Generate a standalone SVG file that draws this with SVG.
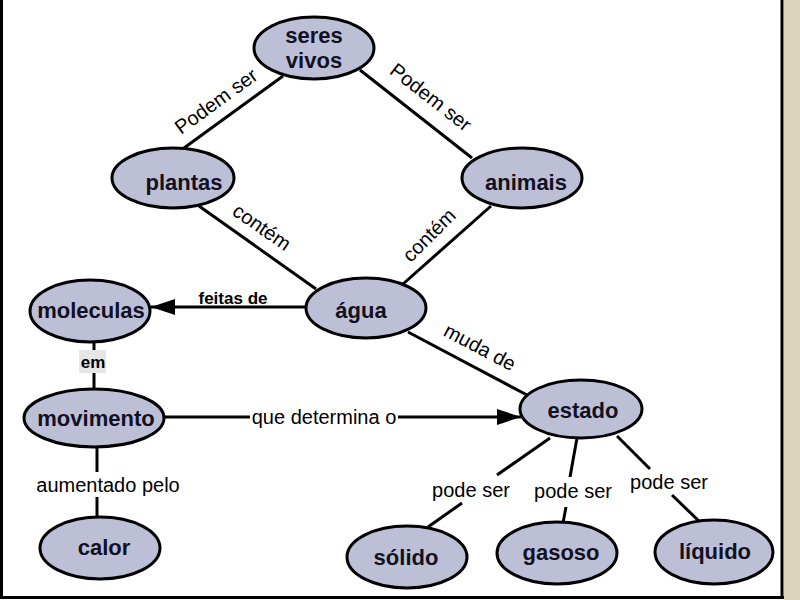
<svg xmlns="http://www.w3.org/2000/svg" width="800" height="600" viewBox="0 0 800 600">
<style>
.node ellipse{fill:#bdbfd7;stroke:#000;stroke-width:3}
.node text{font-family:"Liberation Sans",Arial,sans-serif;font-size:22px;font-weight:bold;fill:#111122;text-anchor:middle}
.edge line,.edge path{stroke:#000;stroke-width:3;fill:none}
.lbl{font-family:"Liberation Sans",Arial,sans-serif;font-size:20px;fill:#000;text-anchor:middle}
.blbl{font-family:"Liberation Sans",Arial,sans-serif;font-size:17px;font-weight:bold;fill:#000;text-anchor:middle}
</style>
<defs>
<marker id="arr" markerUnits="userSpaceOnUse" markerWidth="26" markerHeight="16" refX="24" refY="8" orient="auto">
<path d="M0,0 L24,8 L0,16 z" fill="#000"/>
</marker>
</defs>
<rect x="0" y="0" width="800" height="600" fill="#ffffff"/>
<rect x="784" y="0" width="16" height="600" fill="#dbd6bb"/>
<g id="frame" stroke="#000" stroke-width="3" fill="none">
<line x1="1.5" y1="0" x2="1.5" y2="598"/>
<line x1="0" y1="597.5" x2="784" y2="597.5"/>
<line x1="782" y1="0" x2="782" y2="599"/>
</g>
<g id="connectors" class="edge">
<line x1="283" y1="76" x2="184" y2="148"/>
<line x1="360" y1="70" x2="472" y2="158"/>
<line x1="199" y1="206" x2="316" y2="289"/>
<line x1="491" y1="206" x2="403" y2="284"/>
<line x1="306" y1="307" x2="151" y2="307" marker-end="url(#arr)"/>
<line x1="408" y1="332" x2="527" y2="395"/>
<line x1="94" y1="342" x2="94" y2="389"/>
<line x1="164" y1="417" x2="250" y2="417"/>
<line x1="398" y1="417" x2="521" y2="417" marker-end="url(#arr)"/>
<line x1="97" y1="447" x2="97" y2="472"/>
<line x1="97" y1="497" x2="97" y2="517"/>
<line x1="550" y1="438" x2="497" y2="475"/>
<line x1="462" y1="503" x2="428" y2="527"/>
<line x1="577" y1="438" x2="570" y2="477"/>
<line x1="566" y1="507" x2="563" y2="523"/>
<line x1="617" y1="436" x2="650" y2="469"/>
<line x1="672" y1="495" x2="703" y2="525"/>
<text class="lbl" transform="translate(216,101) rotate(-36)" y="7">Podem ser</text>
<text class="lbl" transform="translate(431,97) rotate(38)" y="7">Podem ser</text>
<text class="lbl" transform="translate(262,227) rotate(35)" y="7">contém</text>
<text class="lbl" transform="translate(429,235) rotate(-45)" y="7">contém</text>
<text class="lbl" transform="translate(480,347) rotate(28)" y="7">muda de</text>
<text class="blbl" x="233" y="304">feitas de</text>
<rect x="79" y="350" width="27" height="23" fill="#e6e6e6"/>
<text class="blbl" x="93" y="368">em</text>
<text class="lbl" x="324" y="424" font-size="19">que determina o</text>
<text class="lbl" x="108" y="492">aumentado pelo</text>
<text class="lbl" x="471" y="497">pode ser</text>
<text class="lbl" x="573" y="498">pode ser</text>
<text class="lbl" x="669" y="489">pode ser</text>
</g>
<g id="seres-vivos" class="node"><ellipse cx="314" cy="48" rx="60" ry="31"/><text x="314" y="43">seres</text><text x="314" y="68">vivos</text></g>
<g id="plantas" class="node"><ellipse cx="173" cy="178" rx="61" ry="30"/><text x="184" y="190">plantas</text></g>
<g id="animais" class="node"><ellipse cx="522" cy="178" rx="60" ry="30"/><text x="526" y="190">animais</text></g>
<g id="agua" class="node"><ellipse cx="366" cy="308" rx="60" ry="30"/><text x="361" y="318">água</text></g>
<g id="moleculas" class="node"><ellipse cx="90" cy="311" rx="60" ry="31"/><text x="91" y="318">moleculas</text></g>
<g id="movimento" class="node"><ellipse cx="94" cy="418" rx="70" ry="29"/><text x="96" y="426">movimento</text></g>
<g id="calor" class="node"><ellipse cx="100" cy="548" rx="60" ry="31"/><text x="104" y="555">calor</text></g>
<g id="estado" class="node"><ellipse cx="581" cy="409" rx="61" ry="29"/><text x="583" y="418">estado</text></g>
<g id="solido" class="node"><ellipse cx="407" cy="557" rx="60" ry="31"/><text x="406" y="565">sólido</text></g>
<g id="gasoso" class="node"><ellipse cx="557" cy="553" rx="60" ry="31"/><text x="561" y="560">gasoso</text></g>
<g id="liquido" class="node"><ellipse cx="714" cy="552" rx="59" ry="32"/><text x="715" y="559">líquido</text></g>
</svg>
